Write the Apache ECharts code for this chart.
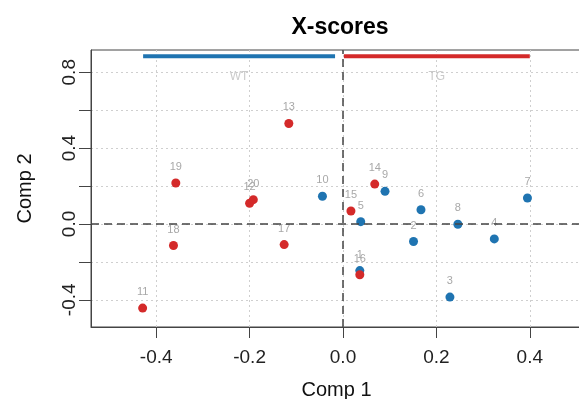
<!DOCTYPE html>
<html>
<head>
<meta charset="utf-8">
<script src="https://cdn.jsdelivr.net/npm/echarts@6/dist/echarts.min.js"></script>
<style>
  html, body { margin: 0; padding: 0; background: #fff; overflow: hidden; }
  #chart { width: 584px; height: 399px; }
</style>
</head>
<body>
<div id="chart"></div>
<script>
// sample labels and scores (Comp 1, Comp 2)
const redIds = ['11', '12', '13', '14', '15', '16', '17', '18', '19', '20'];
const redX = [-0.429, -0.200, -0.116, 0.068, 0.017, 0.036, -0.126, -0.363, -0.358, -0.192];
const redY = [-0.444, 0.109, 0.530, 0.210, 0.068, -0.268, -0.109, -0.114, 0.216, 0.128];

const blueIds = ['1', '2', '3', '4', '5', '6', '7', '8', '9', '10'];
const blueX = [0.036, 0.151, 0.229, 0.324, 0.038, 0.167, 0.395, 0.246, 0.090, -0.044];
const blueY = [-0.246, -0.093, -0.386, -0.079, 0.012, 0.075, 0.137, -0.002, 0.172, 0.146];

// group bars at the top
const groups = ['WT', 'TG'];
const groupStart = [-0.428, 0.002];
const groupEnd = [-0.017, 0.400];
const groupBarY = 0.884;
const groupLabelY = 0.775;

const xTicks = [-0.4, -0.2, 0.0, 0.2, 0.4];
const yTicks = [-0.4, -0.2, 0.0, 0.2, 0.4, 0.6, 0.8];
const yTickLabels = [-0.4, 0.0, 0.4, 0.8];

const BLUE = '#1f74b1';
const RED = '#d42a2a';

const pts = (ids, xs, ys) => ids.map((id, i) => ({ name: id, value: [xs[i], ys[i]] }));

const pointLabel = {
  show: true,
  position: 'top',
  distance: 6,
  formatter: '{b}',
  color: '#a8a8a8',
  fontSize: 11,
  fontFamily: 'Liberation Sans'
};

const chart = echarts.init(document.getElementById('chart'));
const option = {
  animation: false,
  title: {
    text: 'X-scores',
    left: 335,
    top: 11,
    textAlign: 'center',
    textStyle: { fontFamily: 'Liberation Sans', fontWeight: 'bold', fontSize: 23, color: '#000' }
  },
  grid: {
    left: 91, top: 50, right: 2, bottom: 72,
    outerBoundsMode: 'none',
    containLabel: false,
    show: true, borderColor: '#444', borderWidth: 1, backgroundColor: 'transparent'
  },
  xAxis: {
    type: 'value',
    min: -0.5396, max: 0.5118,
    name: 'Comp 1', nameLocation: 'middle', nameGap: 53,
    nameTextStyle: { fontFamily: 'Liberation Sans', fontSize: 20, color: '#111' },
    axisLine: { show: true, onZero: false, lineStyle: { color: '#444', width: 1 } },
    axisTick: { show: true, length: 11, customValues: xTicks, lineStyle: { color: '#444' } },
    axisLabel: {
      customValues: xTicks, margin: 21,
      formatter: v => v.toFixed(1),
      fontFamily: 'Liberation Sans', fontSize: 19, color: '#222'
    },
    splitLine: { show: true, lineStyle: { color: '#cfcfcf', type: [2, 3], width: 1 } }
  },
  yAxis: {
    type: 'value',
    min: -0.5437, max: 0.9174,
    name: 'Comp 2', nameLocation: 'middle', nameGap: 56, nameRotate: 90,
    nameTextStyle: { fontFamily: 'Liberation Sans', fontSize: 20, color: '#111' },
    axisLine: { show: true, onZero: false, lineStyle: { color: '#444', width: 1 } },
    axisTick: { show: true, length: 12, customValues: yTicks, lineStyle: { color: '#444' } },
    axisLabel: {
      customValues: yTickLabels, margin: 12, rotate: 90,
      formatter: v => v.toFixed(1),
      fontFamily: 'Liberation Sans', fontSize: 19, color: '#222'
    },
    splitLine: { show: true, lineStyle: { color: '#cfcfcf', type: [2, 3], width: 1 } }
  },
  series: [
    {
      type: 'line',
      data: [[groupStart[0], groupBarY], [groupEnd[0], groupBarY]],
      symbol: 'none',
      lineStyle: { color: BLUE, width: 4 },
      silent: true,
      markLine: {
        silent: true,
        symbol: 'none',
        label: { show: false },
        lineStyle: { color: '#444', type: [8, 5], width: 1.5 },
        data: [{ xAxis: 0 }, { yAxis: 0 }]
      }
    },
    {
      type: 'line',
      data: [[groupStart[1], groupBarY], [groupEnd[1], groupBarY]],
      symbol: 'none',
      lineStyle: { color: RED, width: 4 },
      silent: true
    },
    {
      type: 'scatter',
      symbolSize: 0,
      data: groups.map((g, i) => ({ name: g, value: [(groupStart[i] + groupEnd[i]) / 2, groupLabelY] })),
      label: {
        show: true, position: 'inside', formatter: '{b}',
        color: '#bdbdbd', fontSize: 12, fontFamily: 'Liberation Sans'
      }
    },
    {
      type: 'scatter',
      symbol: 'circle',
      symbolSize: 9,
      itemStyle: { color: BLUE, opacity: 1 },
      data: pts(blueIds, blueX, blueY),
      label: pointLabel
    },
    {
      type: 'scatter',
      symbol: 'circle',
      symbolSize: 9,
      itemStyle: { color: RED, opacity: 1 },
      data: pts(redIds, redX, redY),
      label: pointLabel
    }
  ]
};
chart.setOption(option);
</script>
</body>
</html>
